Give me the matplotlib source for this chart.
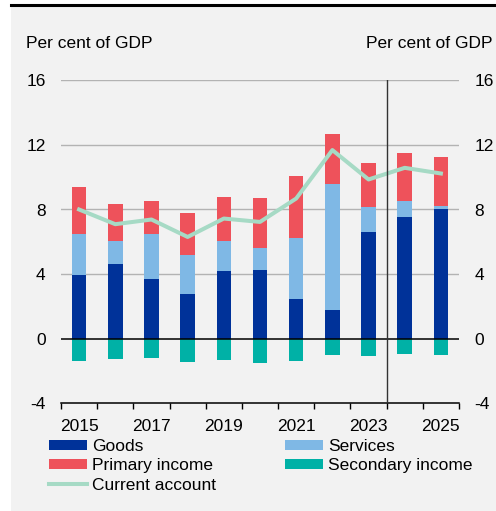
import numpy as np
import matplotlib.pyplot as plt
from matplotlib.patches import Rectangle
from matplotlib.lines import Line2D

plt.rcParams['font.family'] = ['Liberation Sans', 'DejaVu Sans']
plt.rcParams['font.size'] = 12.5

years = ['2015', '2016', '2017', '2018', '2019', '2020', '2021', '2022', '2023', '2024', '2025']
goods = [3.95, 4.61, 3.72, 2.77, 4.17, 4.26, 2.44, 1.76, 6.61, 7.52, 8.02]
services = [2.56, 1.42, 2.77, 2.40, 1.86, 1.38, 3.82, 7.81, 1.55, 0.99, 0.18]
primary = [2.87, 2.34, 2.04, 2.60, 2.73, 3.08, 3.82, 3.10, 2.73, 3.00, 3.02]
secondary = [-1.41, -1.24, -1.18, -1.45, -1.30, -1.49, -1.37, -0.99, -1.05, -0.97, -0.99]
current = [8.00, 7.09, 7.38, 6.30, 7.44, 7.23, 8.68, 11.68, 9.86, 10.58, 10.23]

c_goods = '#003299'
c_serv = '#7fb8e5'
c_prim = '#ee525b'
c_sec = '#00b1a6'
c_ca = '#a6dac5'
bg = '#f2f2f2'

fig = plt.figure(figsize=(4.96, 5.11), dpi=100, facecolor='white')
fig.patches.append(Rectangle((11 / 496, 0), 1 - 11 / 496, 1 - 6 / 511,
                             transform=fig.transFigure, facecolor=bg, edgecolor='none', zorder=-10))
fig.lines.append(Line2D([11 / 496, 1], [1 - 5 / 511, 1 - 5 / 511], transform=fig.transFigure,
                        color='black', lw=2.2))

ax = fig.add_axes([61 / 496, 1 - 403.3 / 511, (459 - 61) / 496, (403.3 - 80.3) / 511])
ax.set_facecolor(bg)

x = np.arange(len(years))
w = 0.4
goods = np.array(goods)
services = np.array(services)
ax.bar(x, goods, w, color=c_goods, label='Goods', zorder=3)
ax.bar(x, services, w, bottom=goods, color=c_serv, label='Services', zorder=3)
ax.bar(x, primary, w, bottom=goods + services, color=c_prim, label='Primary income', zorder=3)
ax.bar(x, secondary, w, color=c_sec, label='Secondary income', zorder=3)
ax.plot(x, current, color=c_ca, lw=2.9, label='Current account', zorder=4)

ax.set_xlim(-0.5, 10.5)
ax.set_ylim(-4, 16)
yt = [-4, 0, 4, 8, 12, 16]
ax.set_yticks(yt)
ax.set_yticklabels([str(v) for v in yt])
for v in [4, 8, 12, 16]:
    ax.axhline(v, color='#b3b3b3', lw=1, zorder=1)
ax.axhline(0, color='black', lw=1.1, zorder=5)
ax.axvline(8.5, color='#333333', lw=1, zorder=5)

ax.set_xticks(x[::2])
ax.set_xticklabels(years[::2])
ax.set_xticks(np.arange(-0.5, 11, 1), minor=True)
ax.tick_params(axis='x', which='major', length=0, pad=11)
ax.tick_params(axis='x', which='minor', length=4.5, width=1, direction='out', color='black')
ax.tick_params(axis='y', length=0, pad=11, labelleft=True, labelright=True)

for s in ['top', 'left', 'right']:
    ax.spines[s].set_visible(False)
ax.spines['bottom'].set_color('black')
ax.spines['bottom'].set_linewidth(1.1)

fig.text(26 / 496, 1 - 43 / 511, 'Per cent of GDP', ha='left', va='center')
fig.text(492 / 496, 1 - 43 / 511, 'Per cent of GDP', ha='right', va='center')

h, l = ax.get_legend_handles_labels()
order = ['Goods', 'Primary income', 'Current account', 'Services', 'Secondary income']
hl = dict(zip(l, h))
fig.legend([hl[k] for k in order], order, ncol=2, loc='upper left',
           bbox_to_anchor=(49 / 496, 1 - 439 / 511), frameon=False, borderpad=0,
           handlelength=2.2, handleheight=0.5, handletextpad=0.3, labelspacing=0.25,
           columnspacing=3.95, borderaxespad=0)

fig.savefig('out.png', dpi=100, facecolor='white')
